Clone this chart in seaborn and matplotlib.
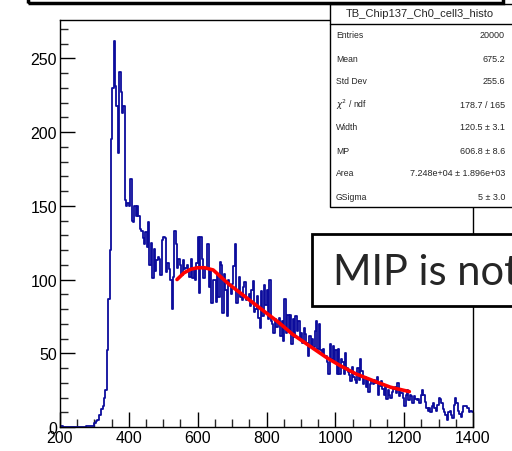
import numpy as np
import pandas as pd
import matplotlib
matplotlib.use("Agg")
import matplotlib.pyplot as plt
import matplotlib.patches as mpatches
import seaborn as sns

# histogram: 300 bins of width 4 between 200 and 1400
BIN_LO, BIN_W = 200, 4
counts = (
    [1, 1, 0] + [0] * 16 +
    [1, 1, 1, 1, 1, 1, 3, 4, 5, 8, 8, 12, 14, 20, 25,
     52, 87, 120, 195, 230, 262, 231, 218, 186, 241, 227, 213, 218,
     154, 150, 152, 150, 168, 140, 139, 150, 143, 150, 143,
     134, 133, 128, 124, 132, 122] +
    [139, 110, 125, 101, 121, 106, 113, 115, 114, 103, 127, 129, 128, 105, 111, 107,
     100, 80, 102, 133, 124, 108, 114, 110, 103, 113, 107, 108, 110, 106, 102, 114,
     101, 108, 100, 111, 129, 91, 129, 114, 101, 108, 107, 124, 95, 107, 84, 100] +
    [100, 85, 104, 88, 112, 110, 77, 104, 93, 75, 100, 96, 90, 97, 109, 124,
     84, 93, 102, 88, 86, 95, 98, 86, 87, 90, 82, 93, 99, 78, 80, 89,
     74, 67, 92, 75, 96, 83, 93, 73, 100, 72, 70, 64, 73, 68, 72] +
    [74, 62, 72, 58, 87, 64, 76, 66, 76, 56, 73, 61, 75, 65, 72, 60,
     64, 57, 67, 63, 57, 48, 62, 55, 60, 54, 65, 72, 53, 70, 52, 50,
     53, 48, 48, 44, 36, 56, 46, 55, 44, 52, 36, 53, 36, 46] +
    [44, 36, 50, 40, 37, 35, 31, 41, 34, 32, 30, 40, 32, 46, 38, 29,
     34, 27, 33, 24, 29, 31, 29, 32, 30, 34, 22, 28, 31, 26, 22, 28,
     19, 25, 22, 20, 24, 26, 27, 23, 30, 21, 24, 23, 20, 14, 22, 25] +
    [18, 22, 21, 16, 21, 19, 18, 19, 16, 22, 25, 22, 17, 13, 11, 13,
     10, 14, 16, 13, 11, 15, 20, 19, 16, 12, 10, 8, 5, 10, 11, 8,
     6, 15, 20, 16, 11, 9, 7, 10, 14, 14, 14, 13, 10, 11, 10]
)
edges = BIN_LO + BIN_W * np.arange(len(counts) + 1)
hist_df = pd.DataFrame({"adc": edges[:-1] + BIN_W / 2, "n": counts})

# fitted curve
fit_x = [540, 560, 580, 600, 620, 645, 690, 740, 790, 835, 875, 925, 975,
         1015, 1060, 1110, 1160, 1215]
fit_y = [100, 104.5, 107, 108, 108, 106.5, 97, 88, 79, 71, 63, 55, 47,
         41.5, 36, 31.4, 27, 24]

stats_title = "TB_Chip137_Ch0_cell3_histo"
stats_labels = ["Entries", "Mean", "Std Dev", r"$\chi^2$ / ndf", "Width", "MP", "Area", "GSigma"]
stats_values = ["20000", "675.2", "255.6", "178.7 / 165", "120.5 \u00b1 3.1",
                "606.8 \u00b1 8.6", "7.248e+04 \u00b1 1.896e+03", "5 \u00b1 3.0"]

sns.set_theme(style="ticks")
plt.rcParams["font.family"] = ["Liberation Sans", "DejaVu Sans"]
plt.rcParams["mathtext.fontset"] = "dejavusans"

W, H = 512, 452
fig = plt.figure(figsize=(W / 100, H / 100), dpi=100)
fig.patch.set_facecolor("white")


def fx(px):
    return px / W


def fy(py):
    return 1 - py / H


ax = fig.add_axes([fx(60), fy(428), (473 - 60) / W, (428 - 21) / H])
ax.set_facecolor("white")

sns.histplot(data=hist_df, x="adc", weights="n", bins=list(edges), element="step", fill=False,
             color="#0c0c9c", linewidth=1.3, ax=ax)
sns.lineplot(x=fit_x, y=fit_y, color="#ff0000", linewidth=2.6, ax=ax)

ax.set_xlim(200, 1400)
ax.set_ylim(0, 276)
ax.set_xlabel("")
ax.set_ylabel("")
ax.set_xticks(np.arange(200, 1401, 200))
ax.set_xticks(np.arange(200, 1401, 50), minor=True)
ax.set_yticks(np.arange(0, 251, 50))
ax.set_yticks(np.arange(0, 271, 10), minor=True)
ax.tick_params(axis="both", which="major", direction="in", length=11, width=1,
               labelsize=11.5, colors="black", pad=2)
ax.tick_params(axis="both", which="minor", direction="in", length=6, width=1)
ax.tick_params(axis="x", pad=2)
for s in ax.spines.values():
    s.set_color("black")
    s.set_linewidth(1)

# stats box
fig.patches.append(mpatches.Rectangle((fx(330), fy(208)), fx(540) - fx(330), fy(5) - fy(208),
                                      transform=fig.transFigure, facecolor="white",
                                      edgecolor="black", linewidth=1, zorder=5))
fig.lines.append(plt.Line2D([fx(330), fx(520)], [fy(25), fy(25)], transform=fig.transFigure,
                            color="black", linewidth=1, zorder=6))
fig.text(fx(420), fy(14), stats_title, ha="center", va="center", fontsize=8, zorder=7)
row_y = np.linspace(36, 197, len(stats_labels))
for lab, val, yy in zip(stats_labels, stats_values, row_y):
    fig.text(fx(336), fy(yy), lab, ha="left", va="center", fontsize=6.2, zorder=7)
    fig.text(fx(505), fy(yy), val, ha="right", va="center", fontsize=6.5, zorder=7)

# top black frame (slide box)
fig.patches.append(mpatches.Rectangle((fx(28), fy(4)), fx(503) - fx(28), 0.2,
                                      transform=fig.transFigure, fill=False,
                                      edgecolor="black", linewidth=2.5, zorder=8))

# callout box
fig.patches.append(mpatches.Rectangle((fx(312), fy(307)), fx(560) - fx(312), fy(235) - fy(307),
                                      transform=fig.transFigure, facecolor="white",
                                      edgecolor="black", linewidth=2, zorder=5))
fig.text(fx(333), fy(285), "MIP is not", ha="left", va="baseline", fontsize=30,
         family=["Lato", "DejaVu Sans"], zorder=7)

fig.savefig("out.png", dpi=100)
